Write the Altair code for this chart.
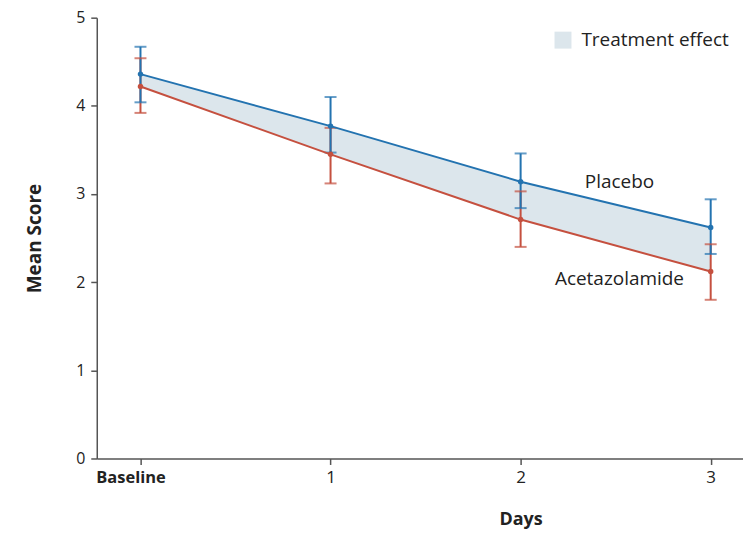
import altair as alt
import pandas as pd

# ---- data ----
days = [0, 1, 2, 3]
placebo_mean = [4.36, 3.77, 3.14, 2.62]
placebo_lo = [4.04, 3.47, 2.84, 2.32]
placebo_hi = [4.67, 4.10, 3.46, 2.94]
acet_mean = [4.22, 3.45, 2.71, 2.12]
acet_lo = [3.92, 3.12, 2.40, 1.80]
acet_hi = [4.54, 3.75, 3.03, 2.43]

groups = ["Acetazolamide", "Placebo"]
group_colors = ["#c5503f", "#2373b0"]

label_text = ["Placebo", "Acetazolamide"]
label_day = [2.52, 2.52]
label_score = [3.14, 2.04]

FONT = "Open Sans"

long_rows = []
for g, m, lo, hi in [("Acetazolamide", acet_mean, acet_lo, acet_hi),
                     ("Placebo", placebo_mean, placebo_lo, placebo_hi)]:
    for d, mv, l, h in zip(days, m, lo, hi):
        long_rows.append({"group": g, "day": d, "mean": mv, "lo": l, "hi": h})
long_df = pd.DataFrame(long_rows)

band_df = pd.DataFrame({"day": days, "top": placebo_mean, "bottom": acet_mean,
                        "effect": ["Treatment effect"] * len(days)})
label_df = pd.DataFrame({"text": label_text, "day": label_day, "score": label_score})

xscale = alt.Scale(domain=[-0.23, 3.17], nice=False, zero=False)
yscale = alt.Scale(domain=[0, 5], nice=False)

xaxis = alt.Axis(
    values=[0, 1, 2, 3], title="Days", grid=False, format="d",
    labelExpr="datum.value == 0 ? 'Baseline' : datum.label",
    labelFontWeight=alt.ExprRef("datum.value == 0 ? 'bold' : 'normal'"),
    labelFontSize=alt.ExprRef("datum.value == 0 ? 16.5 : 17"),
    labelOffset=alt.ExprRef("datum.value == 0 ? -10 : 0"),
    titleX=425, titleY=61, titleBaseline="middle", titleAlign="center", titleFontSize=18,
)
yaxis = alt.Axis(
    values=[0, 1, 2, 3, 4, 5], title="Mean Score", grid=False, format="d",
    labelFontSize=16,
    titleX=-62, titleY=221, titleBaseline="middle", titleAlign="center", titleFontSize=19,
)

color = alt.Color("group:N", scale=alt.Scale(domain=groups, range=group_colors), legend=None)

band = alt.Chart(band_df).mark_area(opacity=1).encode(
    x=alt.X("day:Q", scale=xscale, axis=xaxis),
    y=alt.Y("top:Q", scale=yscale, axis=yaxis),
    y2="bottom:Q",
    fill=alt.Fill("effect:N", scale=alt.Scale(domain=["Treatment effect"], range=["#dce6ec"]),
                  legend=alt.Legend(title=None, orient="none", legendX=458, legendY=13,
                                    symbolType="square", symbolSize=289, symbolStrokeWidth=0,
                                    labelFontSize=19, labelOffset=9, labelFont=FONT,
                                    labelColor="#222", padding=0)),
)

base = alt.Chart(long_df)

lines = base.mark_line(strokeWidth=2).encode(
    x=alt.X("day:Q", scale=xscale), y=alt.Y("mean:Q", scale=yscale), color=color, detail="group:N"
)
bars = base.mark_rule(strokeWidth=2).encode(
    x=alt.X("day:Q", scale=xscale), y=alt.Y("lo:Q", scale=yscale), y2="hi:Q", color=color
)
caps_hi = base.mark_tick(orient="horizontal", size=12, thickness=2).encode(
    x=alt.X("day:Q", scale=xscale), y=alt.Y("hi:Q", scale=yscale), color=color
)
caps_lo = base.mark_tick(orient="horizontal", size=12, thickness=2).encode(
    x=alt.X("day:Q", scale=xscale), y=alt.Y("lo:Q", scale=yscale), color=color
)
points = base.mark_point(filled=True, size=30, opacity=1).encode(
    x=alt.X("day:Q", scale=xscale), y=alt.Y("mean:Q", scale=yscale), color=color
)

labels = alt.Chart(label_df).mark_text(fontSize=19, font=FONT, color="#222",
                                       align="center", baseline="middle").encode(
    x=alt.X("day:Q", scale=xscale), y=alt.Y("score:Q", scale=yscale), text="text:N"
)

chart = alt.layer(
    band, bars, caps_hi, caps_lo, lines, points, labels
).resolve_scale(color="independent").properties(
    width=648, height=442,
    autosize=alt.AutoSizeParams(type="none"),
    padding={"left": 89, "top": 9, "right": 0, "bottom": 72},
).configure_view(stroke=None).configure_axis(
    domainColor="#555", domainWidth=1.5, tickColor="#555", tickWidth=1.5, tickSize=6,
    labelFont=FONT, labelFontSize=17, labelColor="#222", labelPadding=5,
    titleFont=FONT, titleFontWeight="bold", titleColor="#222",
).configure_axisY(labelPadding=6)

chart.save("out.html", embed_options={"renderer": "svg", "actions": False})
